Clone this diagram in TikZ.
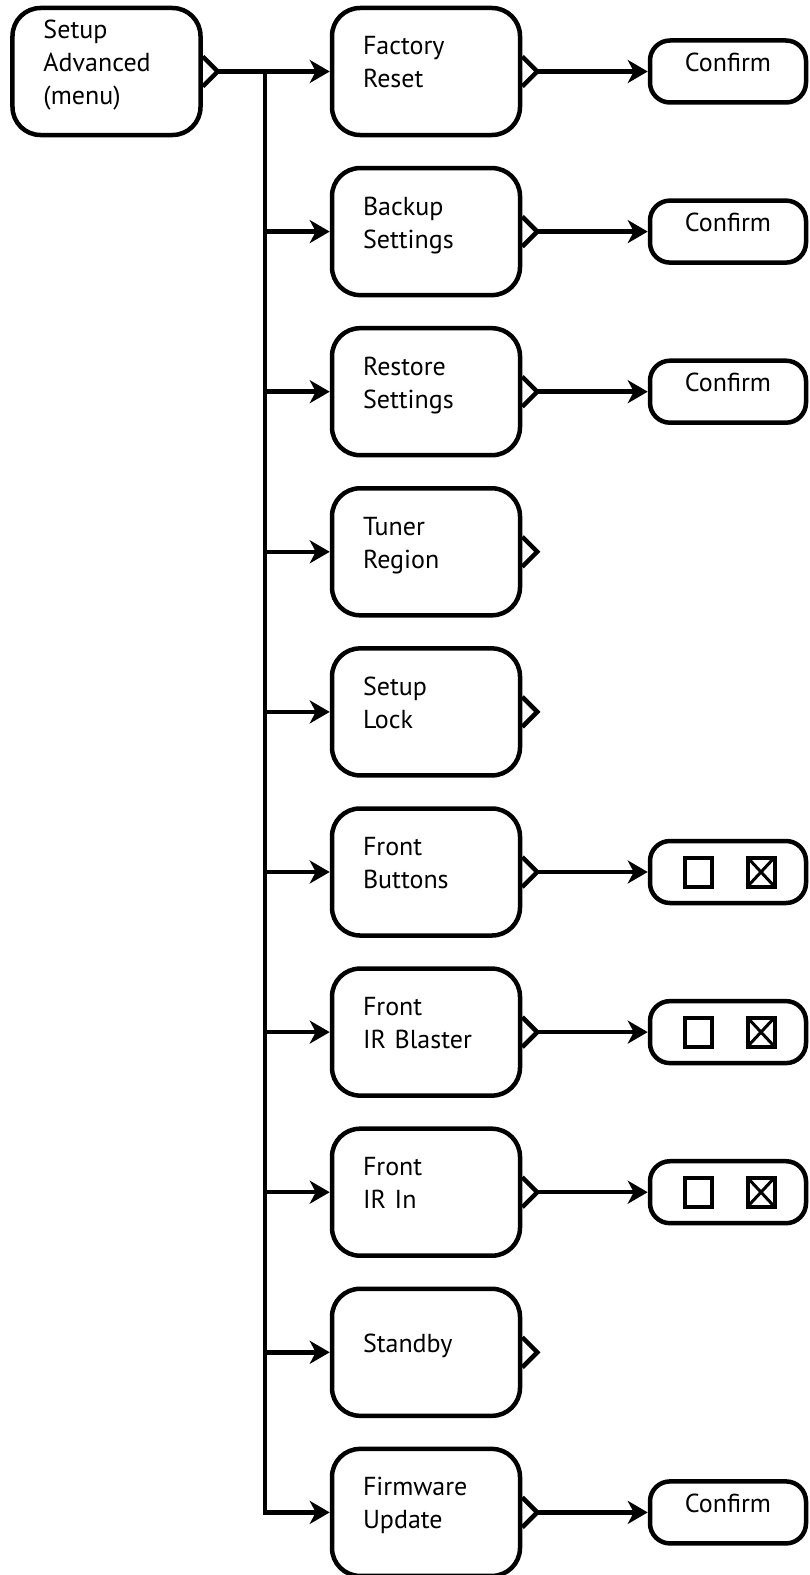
\documentclass[tikz,border=0pt]{standalone}
\usepackage{fontspec}
\setmainfont{PT Sans}
\usetikzlibrary{positioning, calc, arrows.meta}

\newcommand{\topstrut}{\vrule height 22bp depth 0bp width 0bp}
\newcommand{\botstrut}{\vrule height 0bp depth 22bp width 0bp}
\newcommand{\menutab}[1]{\draw[line width=4.5bp] (#1.east) ++(0,-15) -- ++(15,15) coordinate (#1-tip) -- ++(-15,15);}

\tikzset{
  menu/.style={draw, line width=4.5bp, rounded corners=28bp, minimum width=188bp, minimum height=127bp,
    text width=126bp, inner sep=0bp, align=left, font=\fontsize{26bp}{33bp}\selectfont,
    execute at begin node=\topstrut, execute at end node=\botstrut},
  leaf/.style={draw, line width=4.5bp, rounded corners=20bp, minimum width=156bp, minimum height=62bp,
    inner sep=0bp, align=center, font=\fontsize{26bp}{33bp}\selectfont,
    execute at begin node=\topstrut, execute at end node=\botstrut},
  tick/.style={draw, line width=4bp, minimum width=27bp, minimum height=29bp, inner sep=0bp, outer sep=0bp},
  link/.style={line width=4.5bp, -{Stealth[length=20bp, width=23bp, inset=6bp]}}
}

\begin{document}
\begin{tikzpicture}[x=1bp, y=-1bp]
        \useasboundingbox (0,0) rectangle (809,1575);

        % Top level menu
        \node[menu] (adv) at (106.5,71.5) {Setup\\Advanced\\(menu)};
        \menutab{adv}

        % Sub menus
        \node[menu] (fr) at (426,71.5) {Factory\\Reset};
        \node[menu] (bs) at (426,231.6) {Backup\\Settings};
        \node[menu] (rs) at (426,391.7) {Restore\\Settings};
        \node[menu] (tr) at (426,551.8) {Tuner\\Region};
        \node[menu] (sl) at (426,711.9) {Setup\\Lock};
        \node[menu] (fb) at (426,872) {Front\\Buttons};
        \node[menu] (ib) at (426,1032.1) {Front\\IR Blaster};
        \node[menu] (ii) at (426,1192.2) {Front\\IR In};
        \node[menu] (sb) at (426,1352.3) {Standby};
        \node[menu] (fw) at (426,1512.4) {Firmware\\Update};

        \menutab{fr} \menutab{bs} \menutab{rs} \menutab{tr} \menutab{sl}
        \menutab{fb} \menutab{ib} \menutab{ii} \menutab{sb} \menutab{fw}

        % Confirm boxes
        \node[leaf] (fr-ok) at (728,71.5) {Confirm};
        \node[leaf] (bs-ok) at (728,231.6) {Confirm};
        \node[leaf] (rs-ok) at (728,391.7) {Confirm};
        \node[leaf] (fw-ok) at (728,1512.4) {Confirm};

        % On / off boxes
        \node[leaf] (fb-opt) at (728,872) {};
        \node[leaf] (ib-opt) at (728,1032.1) {};
        \node[leaf] (ii-opt) at (728,1192.2) {};

        \node[tick] (fb-off) at ($(fb-opt)+(-30,0)$) {};
        \node[tick] (fb-on) at ($(fb-opt)+(33,0)$) {};
        \node[tick] (ib-off) at ($(ib-opt)+(-30,0)$) {};
        \node[tick] (ib-on) at ($(ib-opt)+(33,0)$) {};
        \node[tick] (ii-off) at ($(ii-opt)+(-30,0)$) {};
        \node[tick] (ii-on) at ($(ii-opt)+(33,0)$) {};
        \draw[line width=3bp] (fb-on.north west) -- (fb-on.south east) (fb-on.north east) -- (fb-on.south west);
        \draw[line width=3bp] (ib-on.north west) -- (ib-on.south east) (ib-on.north east) -- (ib-on.south west);
        \draw[line width=3bp] (ii-on.north west) -- (ii-on.south east) (ii-on.north east) -- (ii-on.south west);

        % Trunk and branches
        \coordinate (trunk) at (265,71.5);
        \draw[link] (adv-tip) -- (fr);
        \draw[link] (trunk) |- (fw);
        \draw[link] (trunk |- bs) -- (bs);
        \draw[link] (trunk |- rs) -- (rs);
        \draw[link] (trunk |- tr) -- (tr);
        \draw[link] (trunk |- sl) -- (sl);
        \draw[link] (trunk |- fb) -- (fb);
        \draw[link] (trunk |- ib) -- (ib);
        \draw[link] (trunk |- ii) -- (ii);
        \draw[link] (trunk |- sb) -- (sb);

        % To the leaves
        \draw[link] (fr-tip) -- (fr-ok);
        \draw[link] (bs-tip) -- (bs-ok);
        \draw[link] (rs-tip) -- (rs-ok);
        \draw[link] (fb-tip) -- (fb-opt);
        \draw[link] (ib-tip) -- (ib-opt);
        \draw[link] (ii-tip) -- (ii-opt);
        \draw[link] (fw-tip) -- (fw-ok);
      \end{tikzpicture}
\end{document}
